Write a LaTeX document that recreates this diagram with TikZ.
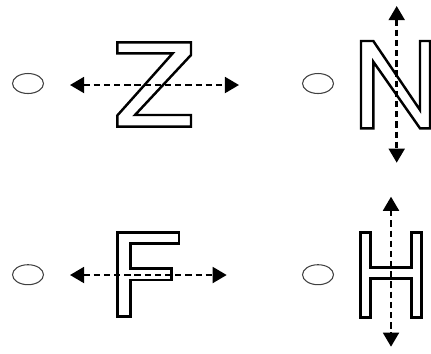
\documentclass[tikz,border=0pt]{standalone}
\usepackage{tikz}
\usetikzlibrary{arrows.meta, shapes.geometric}
\tikzset{
	bubble/.style={ellipse, draw=black!75, line width=0.6pt, minimum width=0.62cm, minimum height=0.4cm, inner sep=0pt}
}
\tikzset{
	hollowletter/.style={draw=black, line width=1.4pt, line join=miter}
}
\tikzset{
	dasharrow/.style={line width=1.4pt, dash pattern=on 3.6pt off 2.2pt, {Triangle[length=8pt,width=9pt]}-{Triangle[length=8pt,width=9pt]}}
}

\begin{document}
\begin{tikzpicture}[x=0.02cm, y=-0.02cm]
      \useasboundingbox (0,0) rectangle (431,353);
      % answer bubbles
      \node[bubble] (zopt) at (28,83.5) {};
      \node[bubble] (nopt) at (318,83.5) {};
      \node[bubble] (fopt) at (28,274.7) {};
      \node[bubble] (hopt) at (318,274.7) {};
      % Z with horizontal line
      \draw[hollowletter] (117.3,42.3) -- (191,42.3) -- (191,55) -- (135,115) -- (191,115)
            -- (191,126.7) -- (117.3,126.7) -- (117.3,115.5) -- (172.7,53.3) -- (117.3,53.3) -- cycle;
      \coordinate (zl) at (70,85);
      \coordinate (zr) at (239,85);
      \draw[dasharrow] (zl) -- (zr);
      % N with vertical line
      \draw[hollowletter] (361,128.3) -- (361,41) -- (373.3,41) -- (420,110) -- (420,41)
            -- (430.2,41) -- (430.2,128.3) -- (420,128.3) -- (373.3,61.7) -- (373.3,128.3) -- cycle;
      \coordinate (nt) at (396.7,6);
      \coordinate (nb) at (396.7,162.7);
      \draw[dasharrow] (nt) -- (nb);
      % F with horizontal line
      \draw[hollowletter] (117.3,316.7) -- (117.3,232.3) -- (179,232.3) -- (179,243.3) -- (130.7,243.3)
            -- (130.7,268.3) -- (171.7,268.3) -- (171.7,280) -- (130.7,280) -- (130.7,316.7) -- cycle;
      \coordinate (fl) at (70,275);
      \coordinate (fr) at (226.7,275);
      \draw[dasharrow] (fl) -- (fr);
      % H with vertical line
      \draw[hollowletter] (360.7,317.7) -- (360.7,232.3) -- (370.7,232.3) -- (370.7,267.7) -- (411.7,267.7)
            -- (411.7,232.3) -- (421.7,232.3) -- (421.7,317.7) -- (411.7,317.7) -- (411.7,278.3)
            -- (370.7,278.3) -- (370.7,317.7) -- cycle;
      \coordinate (ht) at (391,196.7);
      \coordinate (hb) at (391,346.7);
      \draw[dasharrow] (ht) -- (hb);
\end{tikzpicture}
\end{document}
